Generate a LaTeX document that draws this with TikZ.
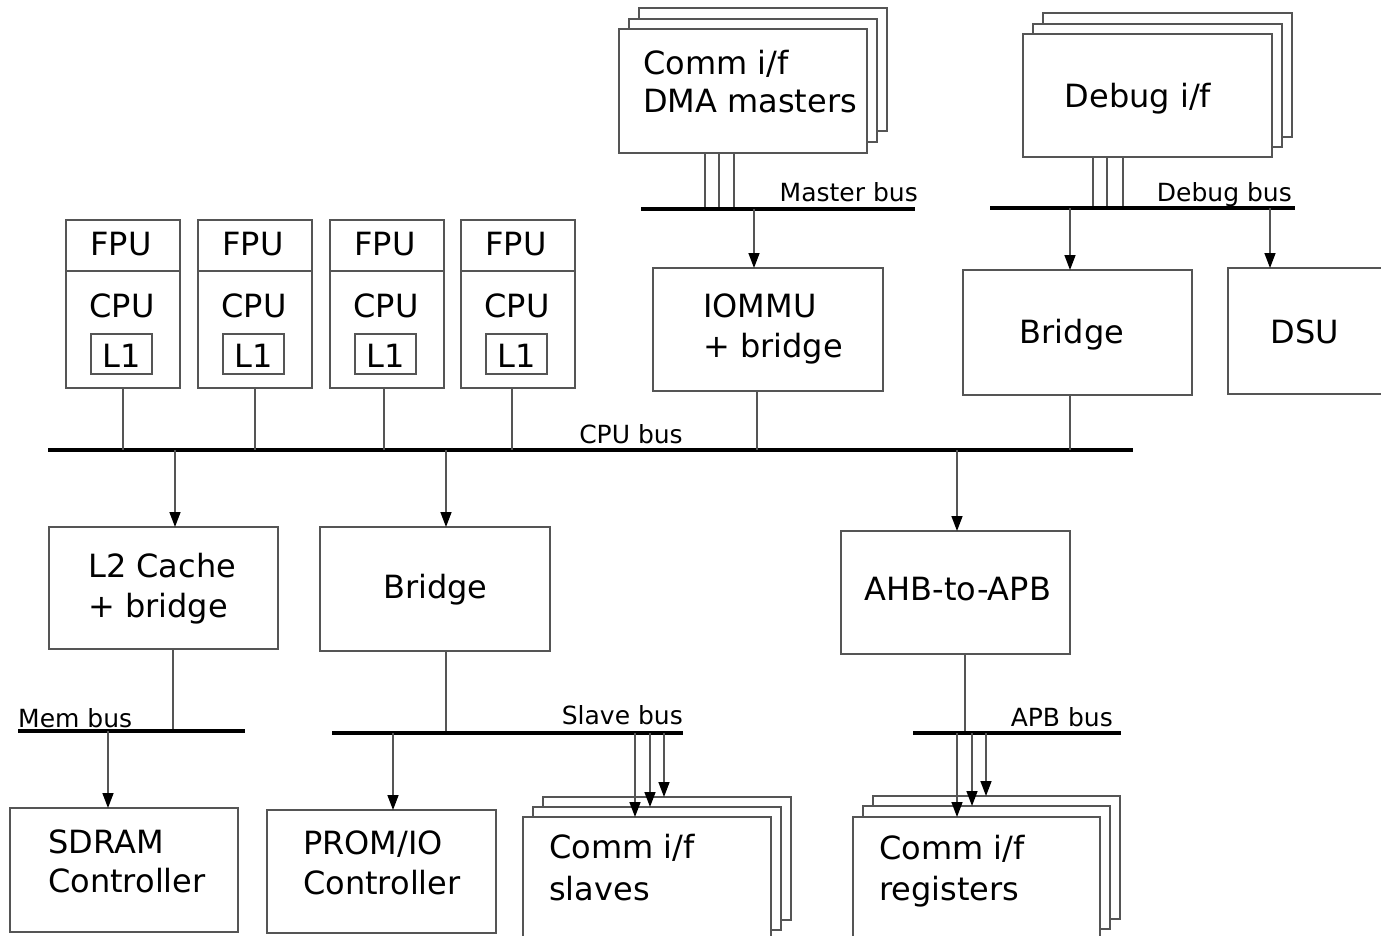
\documentclass[tikz,border=0pt]{standalone}
\usepackage{fontspec}
\setmainfont{DejaVu Sans}
\usetikzlibrary{arrows.meta}
\definecolor{boxgray}{RGB}{85,85,85}
\newcommand\mkbox[5]{\node[blk,minimum width={#4-#2},minimum height={#5-#3}] (#1) at ({(#2+#4)/2},{(#3+#5)/2}) {};}
\begin{document}
\begin{tikzpicture}[x=1pt,y=-1pt,
  blk/.style={draw=boxgray,line width=1.5pt,fill=white,inner sep=0pt,outer sep=0pt},
  bus/.style={line width=4pt,black},
  conn/.style={draw=boxgray,line width=1.5pt},
  arr/.style={conn,-{Triangle[length=15pt,width=11pt,color=black]}},
  big/.style={font=\fontsize{32}{38}\selectfont,inner sep=0pt},
  small/.style={font=\fontsize{25}{30}\selectfont,inner sep=0pt}]
\fill[white] (0,0) rectangle (1381,936);
\useasboundingbox (0,0) rectangle (1381,936);

% ---- CPU bus
\coordinate (cbL) at (48,450); \coordinate (cbR) at (1133,450);
\draw[bus] (cbL) -- (cbR);
\node[small,anchor=base] (cbT) at (631,443) {CPU bus};

% ---- CPU boxes
\mkbox{cpu1}{66}{220}{180}{388}
\mkbox{cpu2}{198}{220}{312}{388}
\mkbox{cpu3}{330}{220}{444}{388}
\mkbox{cpu4}{461}{220}{575}{388}
\foreach \n/\l in {1/66,2/198,3/330,4/461}{
  \draw[conn] (\l,271) -- ({\l+114},271);
  \node[big,anchor=base] (fpu\n) at ({\l+55},255) {FPU};
  \node[big,anchor=base] (cpuT\n) at ({\l+56},317) {CPU};
  \node[blk,minimum width=61pt,minimum height=40pt] (l1\n) at ({\l+55.5},354) {};
  \node[big,anchor=base] (l1T\n) at ({\l+55.5},367) {L1};
}
\draw[conn] (cpu1.south) -- (cpu1.south |- cbL);
\draw[conn] (cpu2.south) -- (cpu2.south |- cbL);
\draw[conn] ([xshift=-3pt]cpu3.south) -- ([xshift=-3pt]cpu3.south |- cbL);
\draw[conn] ([xshift=-6pt]cpu4.south) -- ([xshift=-6pt]cpu4.south |- cbL);

% ---- DMA masters stack
\mkbox{dma3}{639}{8}{887}{131}
\mkbox{dma2}{629}{19}{877}{142}
\mkbox{dma}{619}{29}{867}{153}
\node[big,anchor=base west] (dmaT1) at (643,75) {Comm i/f};
\node[big,anchor=base west] (dmaT2) at (643,113) {DMA masters};
\coordinate (mbL) at (641,209); \coordinate (mbR) at (915,209);
\foreach \s in {-38,-24,-9}{
  \draw[conn] ([xshift=\s pt]dma.south) -- ([xshift=\s pt]dma.south |- mbL);
}
\draw[bus] (mbL) -- (mbR);
\node[small,anchor=base east] (mbT) at (918,202) {Master bus};

% ---- IOMMU
\mkbox{iommu}{653}{268}{883}{391}
\node[big,anchor=base west] (iommuT1) at (703,317) {IOMMU};
\node[big,anchor=base west] (iommuT2) at (703,357) {+ bridge};
\draw[arr] ([xshift=-14pt]iommu.north |- mbL) -- ([xshift=-14pt]iommu.north);
\draw[conn] ([xshift=-11pt]iommu.south) -- ([xshift=-11pt]iommu.south |- cbL);

% ---- Debug stack
\mkbox{dbg3}{1043}{13}{1292}{137}
\mkbox{dbg2}{1033}{24}{1282}{147}
\mkbox{dbg}{1023}{34}{1272}{157}
\node[big,anchor=base] (dbgT) at (1138,108) {Debug i/f};
\coordinate (dbL) at (990,208); \coordinate (dbR) at (1295,208);
\foreach \s in {-54.5,-40.5,-24.5}{
  \draw[conn] ([xshift=\s pt]dbg.south) -- ([xshift=\s pt]dbg.south |- dbL);
}
\draw[bus] (dbL) -- (dbR);
\node[small,anchor=base east] (dbT) at (1292,202) {Debug bus};

% ---- Bridge (top) and DSU
\mkbox{brt}{963}{270}{1192}{395}
\node[big,anchor=base] (brtT) at (1072,343) {Bridge};
\mkbox{dsu}{1228}{268}{1384}{394}
\node[big,anchor=base] (dsuT) at (1305,343) {DSU};
\draw[arr] ([xshift=-7.5pt]brt.north |- dbL) -- ([xshift=-7.5pt]brt.north);
\draw[arr] ([xshift=-36pt]dsu.north |- dbL) -- ([xshift=-36pt]dsu.north);
\draw[conn] ([xshift=-7.5pt]brt.south) -- ([xshift=-7.5pt]brt.south |- cbL);

% ---- L2 cache
\mkbox{l2}{49}{527}{278}{649}
\node[big,anchor=base west] (l2T1) at (88,577) {L2 Cache};
\node[big,anchor=base west] (l2T2) at (88,617) {+ bridge};
\draw[arr] ([xshift=11.5pt]l2.north |- cbL) -- ([xshift=11.5pt]l2.north);
\coordinate (memL) at (18,731); \coordinate (memR) at (245,731);
\draw[conn] ([xshift=9.5pt]l2.south) -- ([xshift=9.5pt]l2.south |- memL);
\draw[bus] (memL) -- (memR);
\node[small,anchor=base west] (memT) at (18,727) {Mem bus};
\mkbox{sdram}{10}{808}{238}{932}
\node[big,anchor=base west] (sdT1) at (48,853) {SDRAM};
\node[big,anchor=base west] (sdT2) at (48,892) {Controller};
\draw[arr] ([xshift=-16pt]sdram.north |- memL) -- ([xshift=-16pt]sdram.north);

% ---- Bridge (bottom)
\mkbox{brb}{320}{527}{550}{651}
\node[big,anchor=base] (brbT) at (435.5,598) {Bridge};
\draw[arr] ([xshift=11pt]brb.north |- cbL) -- ([xshift=11pt]brb.north);
\coordinate (sbL) at (332,733); \coordinate (sbR) at (683,733);
\draw[conn] ([xshift=11pt]brb.south) -- ([xshift=11pt]brb.south |- sbL);
\draw[bus] (sbL) -- (sbR);
\node[small,anchor=base east] (sbT) at (683,724) {Slave bus};
\mkbox{prom}{267}{810}{496}{933}
\node[big,anchor=base west] (promT1) at (303,854) {PROM/IO};
\node[big,anchor=base west] (promT2) at (303,894) {Controller};
\draw[arr] ([xshift=11.5pt]prom.north |- sbL) -- ([xshift=11.5pt]prom.north);

% ---- Comm i/f slaves stack
\mkbox{sl3}{543}{797}{791}{920}
\mkbox{sl2}{533}{807}{781}{930}
\mkbox{sl}{523}{817}{771}{950}
\node[big,anchor=base west] (slT1) at (549,858) {Comm i/f};
\node[big,anchor=base west] (slT2) at (549,900) {slaves};
\draw[arr] ([xshift=-3pt]sl3.north |- sbL) -- ([xshift=-3pt]sl3.north);
\draw[arr] ([xshift=-7pt]sl2.north |- sbL) -- ([xshift=-7pt]sl2.north);
\draw[arr] ([xshift=-12pt]sl.north |- sbL) -- ([xshift=-12pt]sl.north);

% ---- AHB-to-APB
\mkbox{ahb}{841}{531}{1070}{654}
\node[big,anchor=base] (ahbT) at (958,600) {AHB-to-APB};
\draw[arr] ([xshift=1.5pt]ahb.north |- cbL) -- ([xshift=1.5pt]ahb.north);
\coordinate (abL) at (913,733); \coordinate (abR) at (1121,733);
\draw[conn] ([xshift=9.5pt]ahb.south) -- ([xshift=9.5pt]ahb.south |- abL);
\draw[bus] (abL) -- (abR);
\node[small,anchor=base east] (abT) at (1113,726) {APB bus};

% ---- Comm i/f registers stack
\mkbox{rg3}{873}{796}{1120}{919}
\mkbox{rg2}{863}{806}{1110}{929}
\mkbox{rg}{853}{817}{1100}{950}
\node[big,anchor=base west] (rgT1) at (879,859) {Comm i/f};
\node[big,anchor=base west] (rgT2) at (879,900) {registers};
\draw[arr] ([xshift=-10.5pt]rg3.north |- abL) -- ([xshift=-10.5pt]rg3.north);
\draw[arr] ([xshift=-14.5pt]rg2.north |- abL) -- ([xshift=-14.5pt]rg2.north);
\draw[arr] ([xshift=-19.5pt]rg.north |- abL) -- ([xshift=-19.5pt]rg.north);
\end{tikzpicture}
\end{document}
